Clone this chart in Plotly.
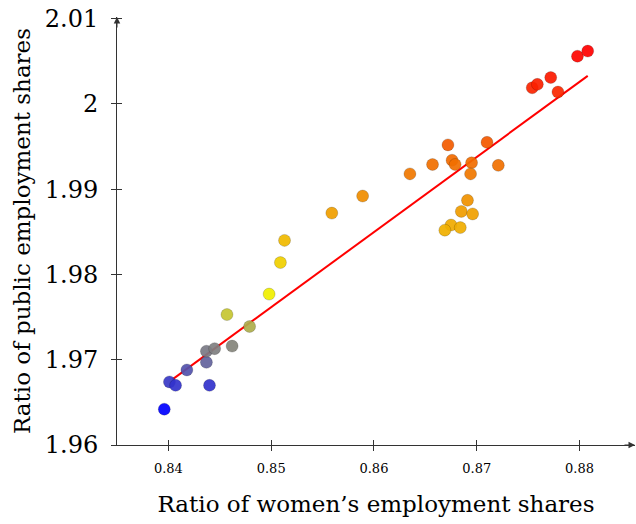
import plotly.graph_objects as go

# ratios
women_ratio = [0.8396, 0.8401, 0.8407, 0.8418, 0.8437, 0.8440, 0.8437, 0.8445,
               0.8462, 0.8457, 0.8479, 0.8498, 0.8509, 0.8513, 0.8559, 0.8589,
               0.8635, 0.8657, 0.8672, 0.8676, 0.8679, 0.8695, 0.8694, 0.8710,
               0.8721, 0.8691, 0.8685, 0.8696, 0.8675, 0.8684, 0.8669,
               0.8754, 0.8759, 0.8772, 0.8779, 0.8798, 0.8808]
public_ratio = [1.9642, 1.9674, 1.9670, 1.9688, 1.9697, 1.9670, 1.9710, 1.9713,
                1.9716, 1.9753, 1.9739, 1.9777, 1.9814, 1.9840, 1.9872, 1.9892,
                1.9918, 1.9929, 1.9952, 1.9934, 1.9929, 1.9931, 1.9918, 1.9955,
                1.9928, 1.9887, 1.9874, 1.9871, 1.9858, 1.9855, 1.9852,
                2.0019, 2.0023, 2.0031, 2.0014, 2.0056, 2.0062]

# fitted line end points
fit_x = [0.8404, 0.8808]
fit_y = [1.9677, 2.0033]

x_ticks = [0.84, 0.85, 0.86, 0.87, 0.88]
y_ticks = [1.96, 1.97, 1.98, 1.99, 2.00, 2.01]
y_ticklabels = ["1.96", "1.97", "1.98", "1.99", "2", "2.01"]

x_range = [0.835, 0.8854]
y_range = [1.96, 2.0102]

cmap = [[0.0, "#0000ff"], [0.17, "#808080"], [0.32, "#f0f000"],
        [0.657, "#f07800"], [1.0, "#ff0000"]]

serif = "DejaVu Serif"

fig = go.Figure()

fig.add_trace(go.Scatter(
    x=fit_x, y=fit_y, mode="lines",
    line=dict(color="#ff0000", width=2),
    showlegend=False, hoverinfo="skip"
))

fig.add_trace(go.Scatter(
    x=women_ratio, y=public_ratio, mode="markers",
    marker=dict(size=12, color=public_ratio, colorscale=cmap,
                cmin=min(public_ratio), cmax=max(public_ratio),
                opacity=0.92, line=dict(color="rgba(0,0,0,0.18)", width=1)),
    showlegend=False
))

# invisible trace so the second pair of axes (inner tick halves) is drawn
fig.add_trace(go.Scatter(
    x=fit_x, y=fit_y, xaxis="x2", yaxis="y2", mode="lines",
    line=dict(width=0), opacity=0, showlegend=False, hoverinfo="skip"
))

axis_common = dict(showgrid=False, zeroline=False, showline=True,
                   linecolor="#333333", linewidth=1, tickcolor="#333333",
                   ticklen=5, tickwidth=1, automargin=False)

fig.update_layout(
    width=636, height=524,
    margin=dict(l=117, r=1, t=17, b=79),
    paper_bgcolor="white", plot_bgcolor="white",
    font=dict(family=serif, color="black"),
    xaxis=dict(range=x_range, tickvals=x_ticks, ticks="outside",
               tickfont=dict(size=13), ticklabelstandoff=6,
               title=dict(text="Ratio of women’s employment shares",
                          font=dict(size=23), standoff=21),
               **axis_common),
    yaxis=dict(range=y_range, tickvals=y_ticks, ticktext=y_ticklabels,
               ticks="outside", tickfont=dict(size=24), ticklabelstandoff=8,
               ticklabeloverflow="allow",
               title=dict(text="Ratio of public employment shares",
                          font=dict(size=23), standoff=7),
               **axis_common),
    xaxis2=dict(range=x_range, overlaying="x", tickvals=x_ticks, ticks="inside",
                showticklabels=False, side="bottom", anchor="y2", **axis_common),
    yaxis2=dict(range=y_range, overlaying="y", tickvals=y_ticks, ticks="inside",
                showticklabels=False, side="left", anchor="x2", **axis_common),
)

# axis arrow heads
fig.add_annotation(x=1, y=0, xref="paper", yref="paper", ax=-12, ay=0,
                   showarrow=True, arrowhead=2, arrowsize=1.3, arrowwidth=1,
                   arrowcolor="#333333", text="")
fig.add_annotation(x=0, y=1, xref="paper", yref="paper", ax=0, ay=12,
                   showarrow=True, arrowhead=2, arrowsize=1.3, arrowwidth=1,
                   arrowcolor="#333333", text="")

# drop the default page margin so the figure sits at the window corner
fig.write_html("out.html", config={"displayModeBar": False},
               post_script="document.body.style.margin='0px';")
